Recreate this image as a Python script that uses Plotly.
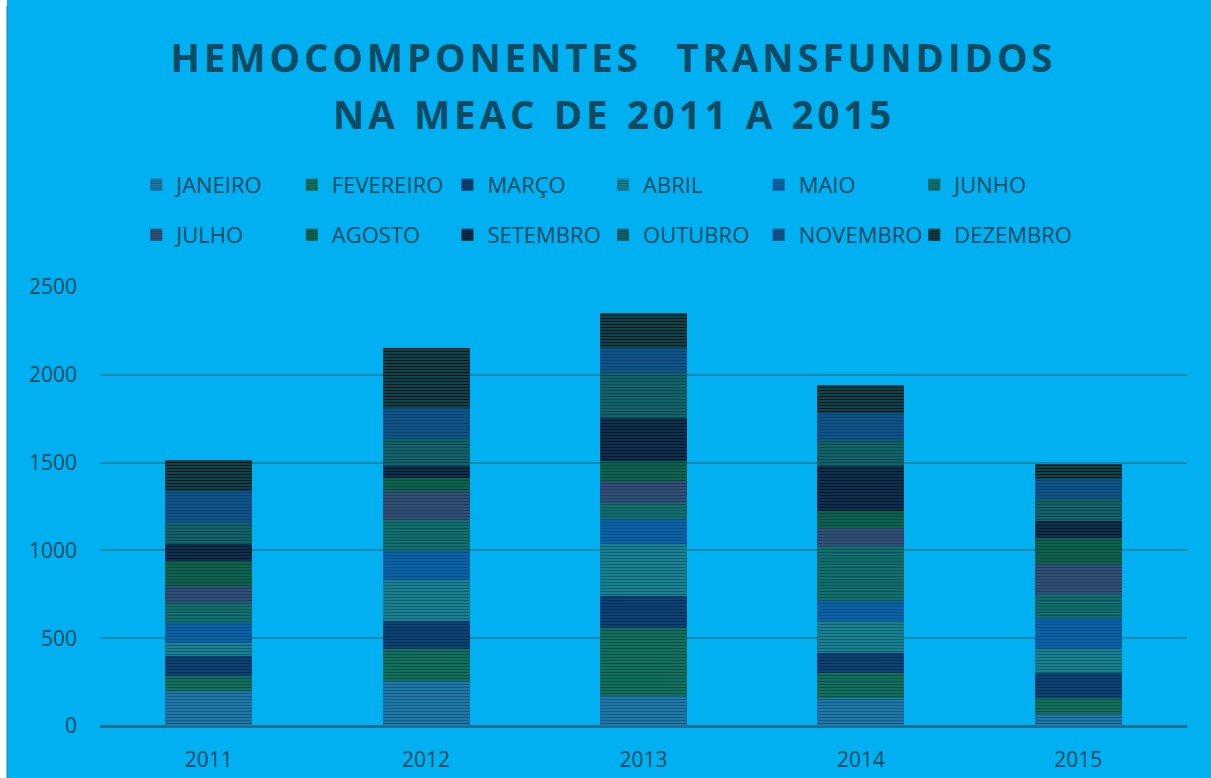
import plotly.graph_objects as go

years = ["2011", "2012", "2013", "2014", "2015"]
months = ["JANEIRO", "FEVEREIRO", "MARÇO", "ABRIL", "MAIO", "JUNHO",
          "JULHO", "AGOSTO", "SETEMBRO", "OUTUBRO", "NOVEMBRO", "DEZEMBRO"]

janeiro = [199, 256, 171, 161, 67]
fevereiro = [85, 180, 389, 142, 95]
marco = [114, 161, 180, 114, 142]
abril = [76, 237, 294, 180, 133]
maio = [114, 161, 142, 114, 180]
junho = [114, 180, 95, 313, 133]
julho = [95, 161, 123, 104, 171]
agosto = [142, 76, 114, 95, 152]
setembro = [95, 67, 247, 256, 95]
outubro = [123, 161, 256, 152, 133]
novembro = [180, 171, 142, 152, 104]
dezembro = [177, 342, 199, 161, 85]

series = [janeiro, fevereiro, marco, abril, maio, junho,
          julho, agosto, setembro, outubro, novembro, dezembro]

bg_colors = ["#2280b0", "#137a6a", "#0d4a80", "#1a8a9a", "#0b6aae", "#147878",
             "#2f5a80", "#0e6a58", "#0d3a5a", "#136a75", "#0e5a90", "#0f5560"]
fg_colors = ["#155a85", "#0b5040", "#082d55", "#106070", "#0a4f8a", "#0d5555",
             "#2a3a5a", "#0a4a3a", "#041628", "#0c4a50", "#0b4270", "#031418"]

TEXT = "#0e4a62"
BG = "#00b0f0"

legend_of = ["legend"] * 6 + ["legend2"] * 4 + ["legend3", "legend4"]

fig = go.Figure()
for i, (name, vals) in enumerate(zip(months, series)):
    fig.add_trace(go.Bar(
        x=years, y=vals, name=name,
        legend=legend_of[i],
        marker=dict(color=bg_colors[i], line=dict(width=0),
                    pattern=dict(shape="-", size=3, solidity=0.5,
                                 fgcolor=fg_colors[i], bgcolor=bg_colors[i],
                                 fillmode="replace")),
    ))

def spaced(s):
    return "\u200a".join(list(s))

title_line1 = spaced("HEMOCOMPONENTES") + "\u2003" + spaced("TRANSFUNDIDOS")
title_line2 = (spaced("NA") + "\u2002" + spaced("MEAC") + "\u2002" + spaced("DE") + "\u2002" +
               spaced("2011") + "\u2002" + spaced("A") + "\u2002" + spaced("2015"))

PH = 439.0  # plot height px
PW = 1087.0
W = 1211.0
ENTRY = 110.6
STEP = 155.6
LX = 0.1125 * W

def legend_box(x_px, y_px, entrywidth):
    return dict(orientation="h", xref="container", yref="container",
                x=x_px / W, xanchor="left", y=1 - y_px / 778, yanchor="middle",
                entrywidth=entrywidth, entrywidthmode="pixels", traceorder="normal",
                font=dict(size=22, color=TEXT), bgcolor="rgba(0,0,0,0)",
                itemclick=False)

fig.update_layout(
    width=1211, height=778,
    barmode="stack", bargap=0.6,
    paper_bgcolor=BG, plot_bgcolor=BG,
    margin=dict(l=100, r=24, t=287, b=52, autoexpand=False),
    font=dict(family="Open Sans", color=TEXT, size=20),
    title=dict(text=title_line1, x=0.505, xanchor="center",
               y=1 - 59 / 778, yanchor="middle",
               xref="container", yref="container",
               font=dict(family="Open Sans", size=38.5, color=TEXT, weight="bold")),
    annotations=[dict(text=title_line2, xref="paper", yref="paper",
                      x=(612 - 100) / PW, y=(726 - 114) / PH,
                      xanchor="center", yanchor="middle", showarrow=False,
                      font=dict(family="Open Sans", size=38.5, color=TEXT, weight="bold"))],
    legend=legend_box(LX, 185, ENTRY),
    legend2=legend_box(LX, 235, ENTRY),
    legend3=legend_box(LX + 4 * STEP, 235, 0),
    legend4=legend_box(LX + 5 * STEP, 235, 0),
    xaxis=dict(showgrid=False, ticks="", tickfont=dict(size=21, color=TEXT),
               showline=False, ticklabelstandoff=19, automargin=False),
    yaxis=dict(range=[0, 2500], tickvals=[0, 500, 1000, 1500, 2000, 2500],
               showgrid=True, gridcolor="#1687b0", gridwidth=1.5,
               zeroline=True, zerolinecolor="#1a6f90", zerolinewidth=3,
               ticks="", tickfont=dict(size=21, color=TEXT), ticklabelstandoff=22,
               automargin=False),
    shapes=[
        dict(type="rect", xref="paper", yref="paper", layer="above",
             x0=-101 / PW, x1=-93 / PW, y0=-60 / PH, y1=730 / PH,
             fillcolor="white", line=dict(width=0)),
        dict(type="line", xref="paper", yref="paper", layer="above",
             x0=-93 / PW, x1=-93 / PW, y0=-60 / PH, y1=(726 - 6) / PH,
             line=dict(color="#1a7fa5", width=1)),
    ],
)

fig.write_html("out.html")
